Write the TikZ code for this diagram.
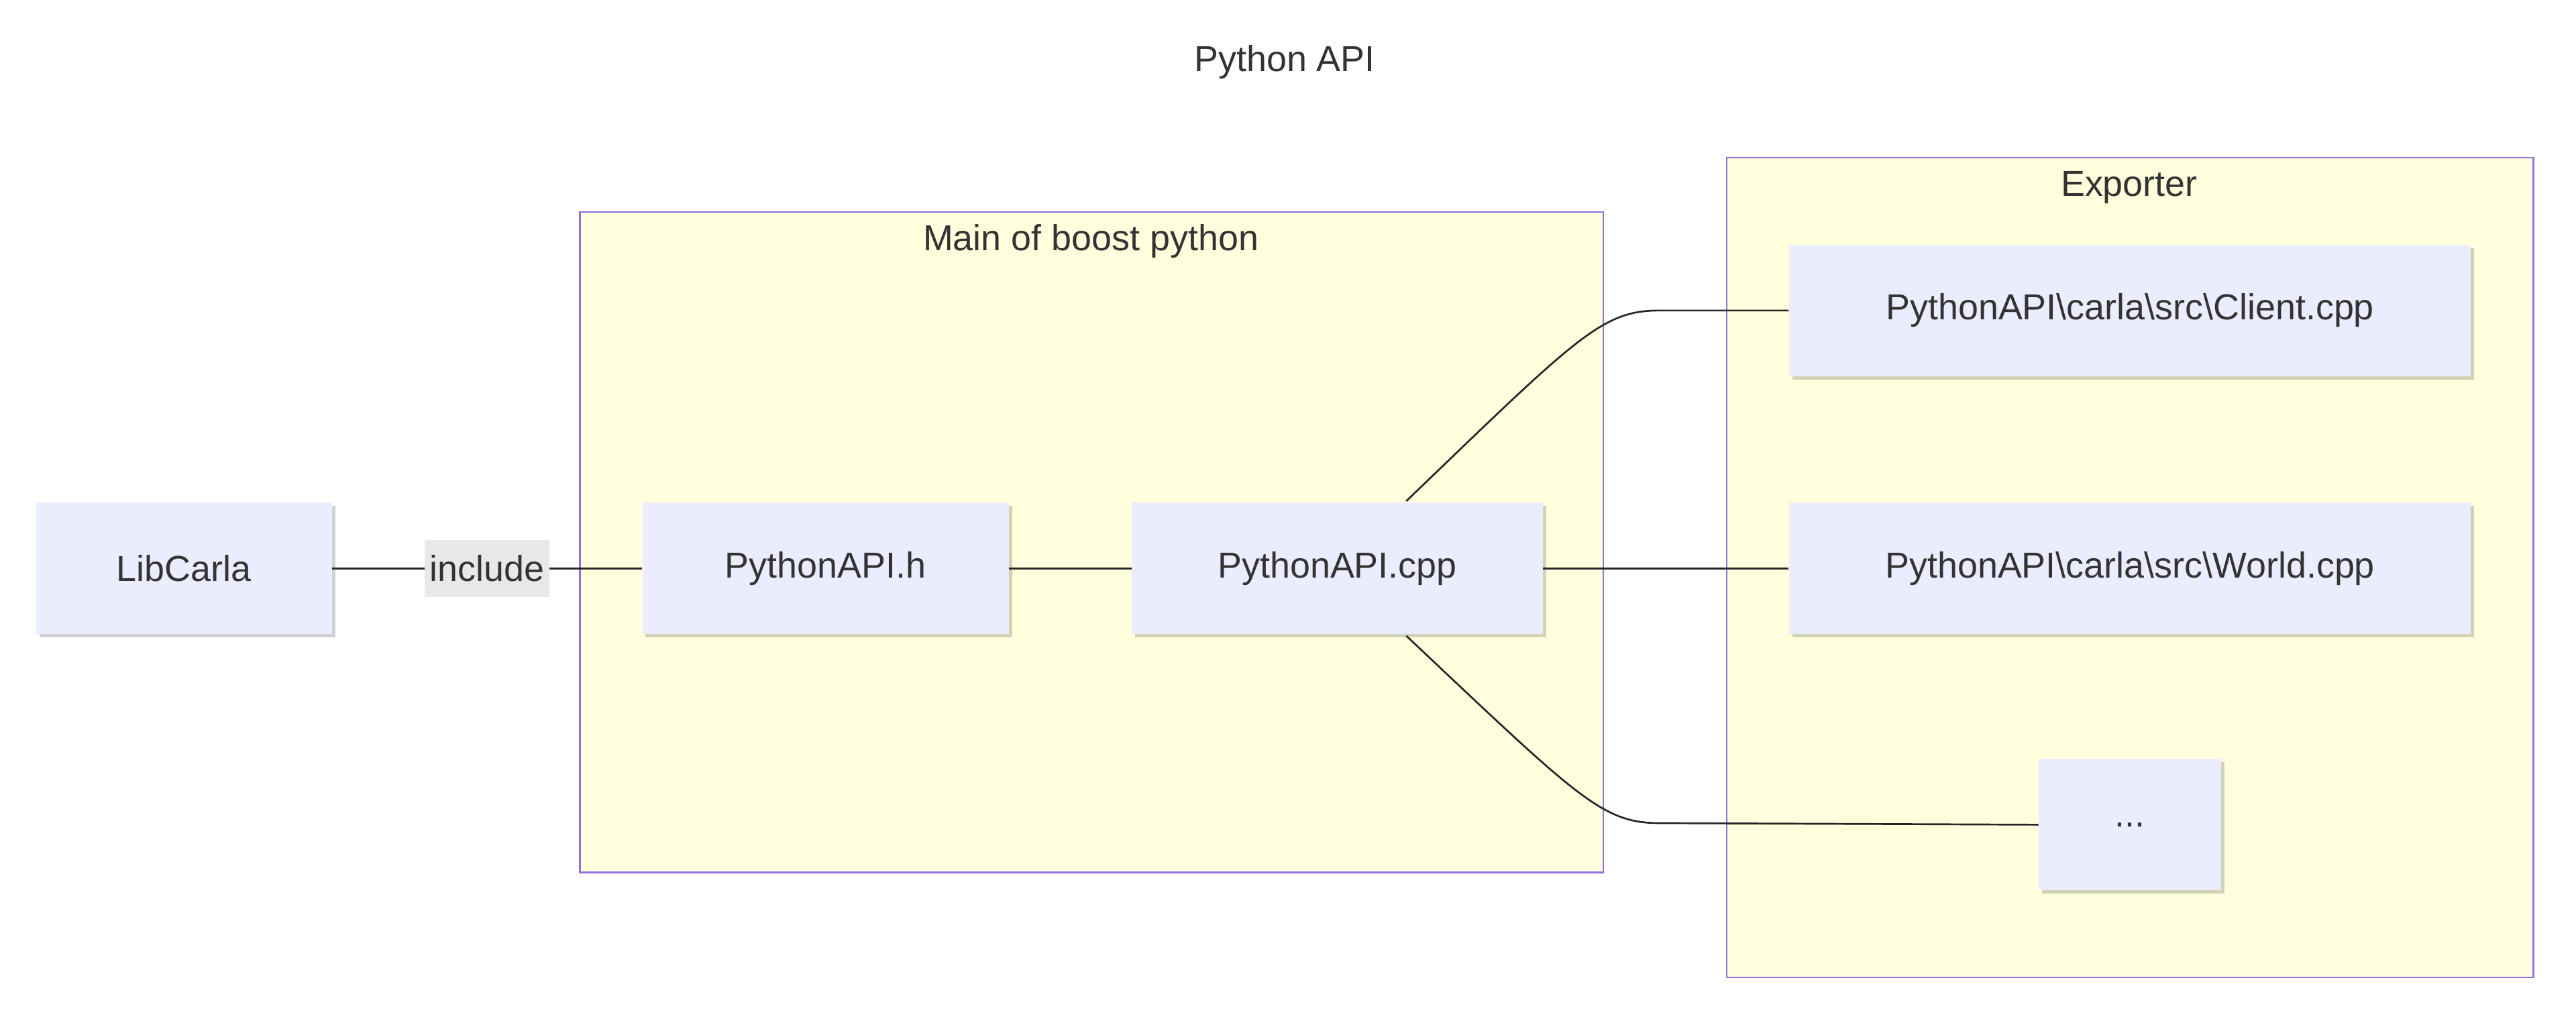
\documentclass[tikz,border=0pt]{standalone}
\usepackage{fontspec}
\setmainfont{Liberation Sans}
\usetikzlibrary{shadows}
\definecolor{nodefill}{HTML}{ECECFF}
\definecolor{clusterfill}{HTML}{FFFFDE}
\definecolor{stroke}{HTML}{9370DB}
\definecolor{txt}{HTML}{333333}
\begin{document}
\begin{tikzpicture}[x=1pt,y=-1pt,
  box/.style={fill=nodefill,draw=none,inner sep=0,text=txt,font=\fontsize{22}{26}\selectfont,
     drop shadow={shadow xshift=2pt,shadow yshift=-2pt,fill=black,opacity=0.18}},
  cluster/.style={fill=clusterfill,draw=stroke,line width=1pt},
  lbl/.style={text=txt,font=\fontsize{22}{26}\selectfont},
  edge/.style={draw=black!85,line width=1.1pt}]
\useasboundingbox (0,0) rectangle (1568,619);
\node[lbl] (title) at (782,38) {Python API};
\draw[cluster] (353,129) rectangle (976,531);
\node[lbl] (mainlbl) at (664,147) {Main of boost python};
\draw[cluster] (1051,96) rectangle (1542,595);
\node[lbl] (explbl) at (1296,114) {Exporter};
\node[box,minimum width=180pt,minimum height=80pt] (lib) at (112,346) {LibCarla};
\node[box,minimum width=223pt,minimum height=80pt] (h) at (502.5,346) {PythonAPI.h};
\node[box,minimum width=250pt,minimum height=80pt] (cpp) at (814,346) {PythonAPI.cpp};
\node[box,minimum width=415pt,minimum height=80pt] (client) at (1296.5,189) {PythonAPI\textbackslash carla\textbackslash src\textbackslash Client.cpp};
\node[box,minimum width=415pt,minimum height=80pt] (world) at (1296.5,346) {PythonAPI\textbackslash carla\textbackslash src\textbackslash World.cpp};
\node[box,minimum width=111pt,minimum height=80pt] (dots) at (1296.5,502) {...};
\draw[edge] (lib) -- (h) node[midway,fill=black!9,inner sep=0,minimum width=76pt,minimum height=35pt,lbl] (inc) {include};
\draw[edge] (h) -- (cpp);
\draw[edge] (cpp) -- (world);
\coordinate (c1) at (1010,189);
\coordinate (c2) at (1010,501);
\draw[edge] (856,305) .. controls (960,205) and (975,189) .. (c1) -- (client.west);
\draw[edge] (856,387) .. controls (960,485) and (975,501) .. (c2) -- (dots.west);
\end{tikzpicture}
\end{document}
